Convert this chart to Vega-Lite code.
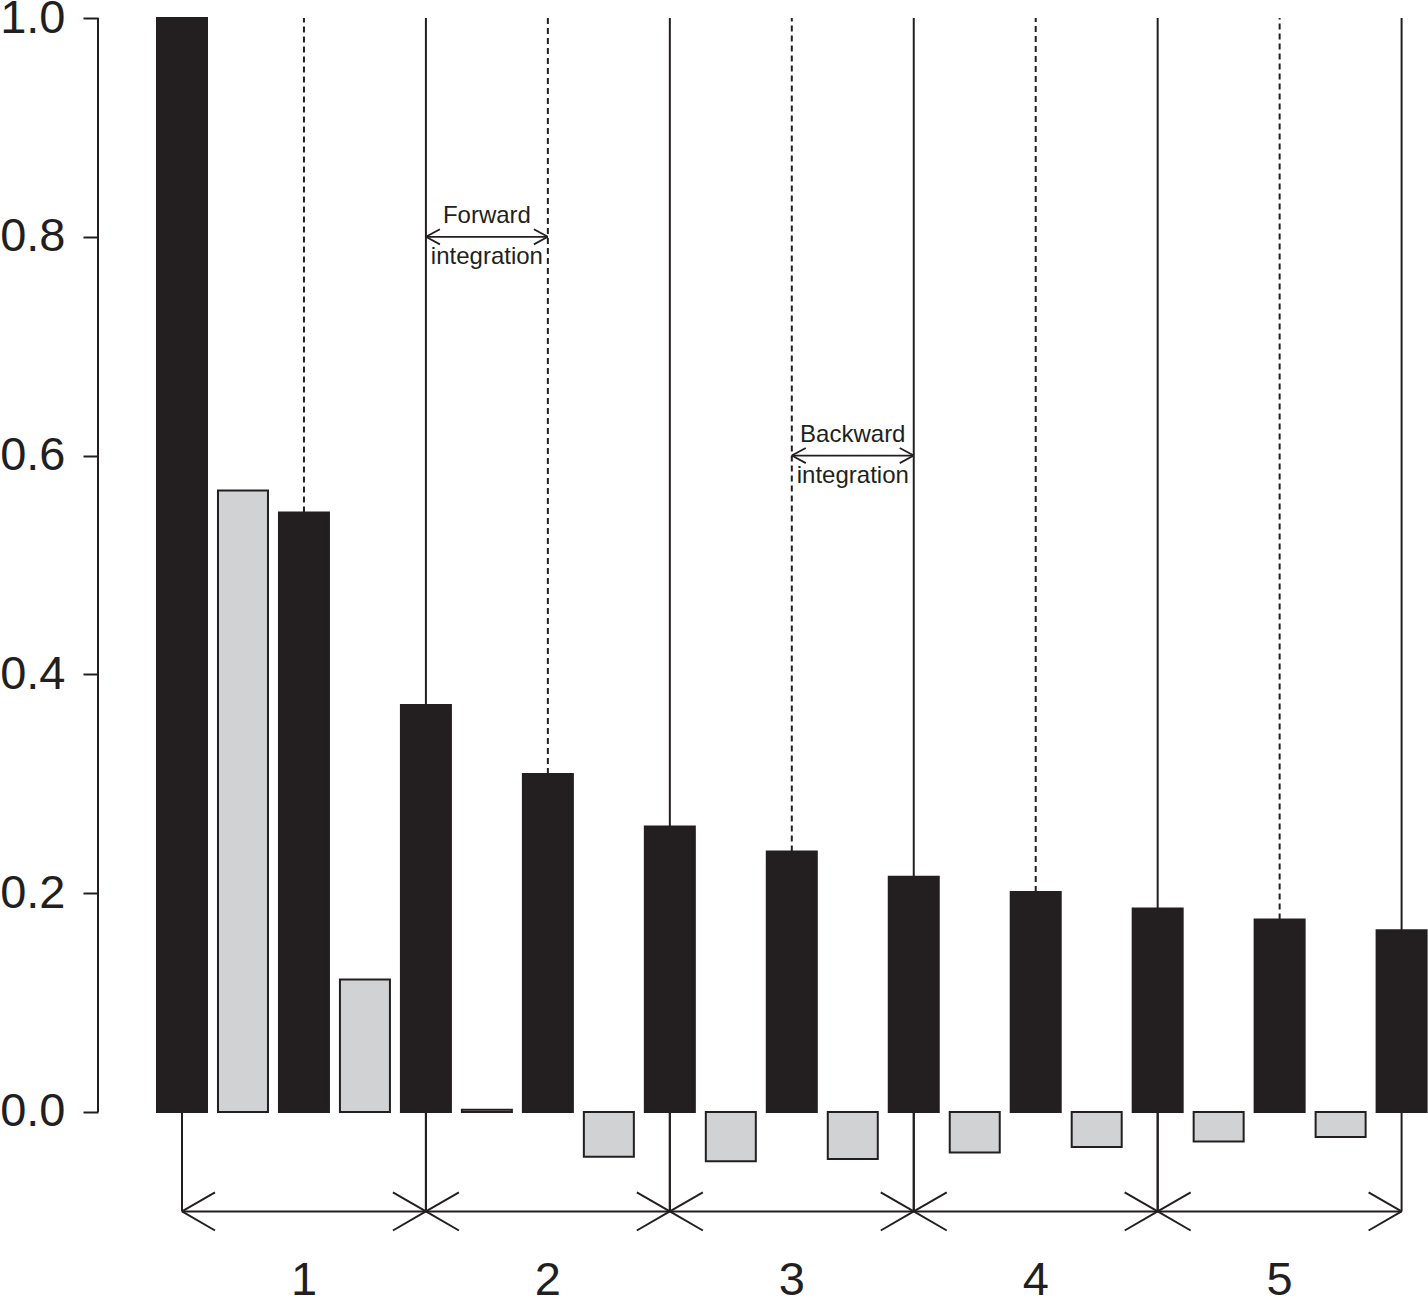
{
  "$schema": "https://vega.github.io/schema/vega-lite/v6.json",
  "width": 1330,
  "height": 1281,
  "autosize": {"type": "none"},
  "padding": {"left": 98, "top": 18, "right": 0, "bottom": 0},
  "background": "white",
  "datasets": {
    "bars": [
      {"i": 0, "v": 1.0, "series": "a"},
      {"i": 1, "v": 0.568, "series": "b"},
      {"i": 2, "v": 0.548, "series": "a"},
      {"i": 3, "v": 0.121, "series": "b"},
      {"i": 4, "v": 0.372, "series": "a"},
      {"i": 5, "v": 0.002, "series": "b"},
      {"i": 6, "v": 0.309, "series": "a"},
      {"i": 7, "v": -0.041, "series": "b"},
      {"i": 8, "v": 0.261, "series": "a"},
      {"i": 9, "v": -0.045, "series": "b"},
      {"i": 10, "v": 0.238, "series": "a"},
      {"i": 11, "v": -0.043, "series": "b"},
      {"i": 12, "v": 0.215, "series": "a"},
      {"i": 13, "v": -0.037, "series": "b"},
      {"i": 14, "v": 0.201, "series": "a"},
      {"i": 15, "v": -0.032, "series": "b"},
      {"i": 16, "v": 0.186, "series": "a"},
      {"i": 17, "v": -0.027, "series": "b"},
      {"i": 18, "v": 0.176, "series": "a"},
      {"i": 19, "v": -0.023, "series": "b"},
      {"i": 20, "v": 0.166, "series": "a"}
    ],
    "segments": [
      {"phase": "1", "start": 0, "end": 4, "mid": 2},
      {"phase": "2", "start": 4, "end": 8, "mid": 6},
      {"phase": "3", "start": 8, "end": 12, "mid": 10},
      {"phase": "4", "start": 12, "end": 16, "mid": 14},
      {"phase": "5", "start": 16, "end": 20, "mid": 18}
    ],
    "notes": [
      {"upper": "Forward", "lower": "integration", "start": 4, "end": 6, "mid": 5, "level": 0.8},
      {"upper": "Backward", "lower": "integration", "start": 10, "end": 12, "mid": 11, "level": 0.6}
    ]
  },
  "layer": [
    {
      "data": {"name": "bars"},
      "mark": {"type": "bar", "size": 50, "stroke": "#231f20", "strokeWidth": 2},
      "encoding": {
        "x": {"field": "i", "type": "quantitative", "scale": {"domain": [-1.3775, 20.433], "nice": false, "zero": false, "padding": 0}, "axis": null},
        "y": {
          "field": "v", "type": "quantitative", "title": null,
          "scale": {"domain": [-0.171, 1], "nice": false, "zero": false},
          "axis": {"values": [0, 0.2, 0.4, 0.6, 0.8, 1.0], "format": ".1f"}
        },
        "y2": {"datum": 0},
        "color": {"field": "series", "type": "nominal", "scale": {"domain": ["a", "b"], "range": ["#231f20", "#d0d2d3"]}, "legend": null}
      }
    },
    {
      "data": {"name": "bars"},
      "transform": [{"filter": "datum.i > 0 && datum.i % 4 == 0"}],
      "mark": {"type": "rule", "color": "#231f20", "strokeWidth": 2},
      "encoding": {
        "x": {"field": "i", "type": "quantitative", "axis": null},
        "y": {"field": "v", "type": "quantitative", "title": null},
        "y2": {"datum": 1}
      }
    },
    {
      "data": {"name": "bars"},
      "transform": [{"filter": "datum.i % 4 == 2"}],
      "mark": {"type": "rule", "color": "#231f20", "strokeWidth": 2, "strokeDash": [6, 4]},
      "encoding": {
        "x": {"field": "i", "type": "quantitative", "axis": null},
        "y": {"field": "v", "type": "quantitative", "title": null},
        "y2": {"datum": 1}
      }
    },
    {
      "data": {"values": [{"x0": -1.3775, "lo": 0, "hi": 1}]},
      "mark": {"type": "rule", "color": "#231f20", "strokeWidth": 2},
      "encoding": {
        "x": {"field": "x0", "type": "quantitative", "axis": null},
        "y": {"field": "lo", "type": "quantitative", "title": null},
        "y2": {"field": "hi"}
      }
    },
    {
      "data": {"name": "segments"},
      "layer": [
        {
          "mark": {"type": "rule", "color": "#231f20", "strokeWidth": 2},
          "encoding": {
            "x": {"field": "start", "type": "quantitative", "axis": null},
            "y": {"datum": 0, "type": "quantitative", "title": null},
            "y2": {"datum": -0.091}
          }
        },
        {
          "mark": {"type": "rule", "color": "#231f20", "strokeWidth": 2},
          "encoding": {
            "x": {"field": "end", "type": "quantitative", "axis": null},
            "y": {"datum": 0, "type": "quantitative", "title": null},
            "y2": {"datum": -0.091}
          }
        },
        {
          "mark": {"type": "rule", "color": "#231f20", "strokeWidth": 2},
          "encoding": {
            "x": {"field": "start", "type": "quantitative", "axis": null},
            "x2": {"field": "end"},
            "y": {"datum": -0.091, "type": "quantitative", "title": null}
          }
        },
        {
          "mark": {"type": "point", "shape": "M0,0L1,-0.576M0,0L1,0.576", "size": 4356, "filled": false, "opacity": 1, "stroke": "#231f20", "strokeWidth": 2},
          "encoding": {
            "x": {"field": "start", "type": "quantitative", "axis": null},
            "y": {"datum": -0.091, "type": "quantitative", "title": null}
          }
        },
        {
          "mark": {"type": "point", "shape": "M0,0L-1,-0.576M0,0L-1,0.576", "size": 4356, "filled": false, "opacity": 1, "stroke": "#231f20", "strokeWidth": 2},
          "encoding": {
            "x": {"field": "end", "type": "quantitative", "axis": null},
            "y": {"datum": -0.091, "type": "quantitative", "title": null}
          }
        },
        {
          "mark": {"type": "text", "font": "Liberation Sans", "fontSize": 47, "color": "#231f20", "align": "center", "baseline": "alphabetic"},
          "encoding": {
            "x": {"field": "mid", "type": "quantitative", "axis": null},
            "y": {"datum": -0.167, "type": "quantitative", "title": null},
            "text": {"field": "phase"}
          }
        }
      ]
    },
    {
      "data": {"name": "notes"},
      "layer": [
        {
          "mark": {"type": "rule", "color": "#231f20", "strokeWidth": 1.8},
          "encoding": {
            "x": {"field": "start", "type": "quantitative", "axis": null},
            "x2": {"field": "end"},
            "y": {"field": "level", "type": "quantitative", "title": null}
          }
        },
        {
          "mark": {"type": "point", "shape": "M0,0L1,-0.54M0,0L1,0.54", "size": 784, "filled": false, "opacity": 1, "stroke": "#231f20", "strokeWidth": 1.8},
          "encoding": {
            "x": {"field": "start", "type": "quantitative", "axis": null},
            "y": {"field": "level", "type": "quantitative", "title": null}
          }
        },
        {
          "mark": {"type": "point", "shape": "M0,0L-1,-0.54M0,0L-1,0.54", "size": 784, "filled": false, "opacity": 1, "stroke": "#231f20", "strokeWidth": 1.8},
          "encoding": {
            "x": {"field": "end", "type": "quantitative", "axis": null},
            "y": {"field": "level", "type": "quantitative", "title": null}
          }
        },
        {
          "mark": {"type": "text", "font": "Liberation Sans", "fontSize": 24, "color": "#231f20", "align": "center", "baseline": "alphabetic", "dy": -14},
          "encoding": {
            "x": {"field": "mid", "type": "quantitative", "axis": null},
            "y": {"field": "level", "type": "quantitative", "title": null},
            "text": {"field": "upper"}
          }
        },
        {
          "mark": {"type": "text", "font": "Liberation Sans", "fontSize": 24, "color": "#231f20", "align": "center", "baseline": "alphabetic", "dy": 27},
          "encoding": {
            "x": {"field": "mid", "type": "quantitative", "axis": null},
            "y": {"field": "level", "type": "quantitative", "title": null},
            "text": {"field": "lower"}
          }
        }
      ]
    }
  ],
  "config": {
    "view": {"stroke": null},
    "axisY": {
      "domain": false, "grid": false,
      "tickSize": 15, "tickWidth": 2, "tickColor": "#231f20",
      "labelFont": "Liberation Sans", "labelFontSize": 47, "labelColor": "#231f20",
      "labelPadding": 18, "labelFlush": false, "labelOverlap": false
    }
  }
}
